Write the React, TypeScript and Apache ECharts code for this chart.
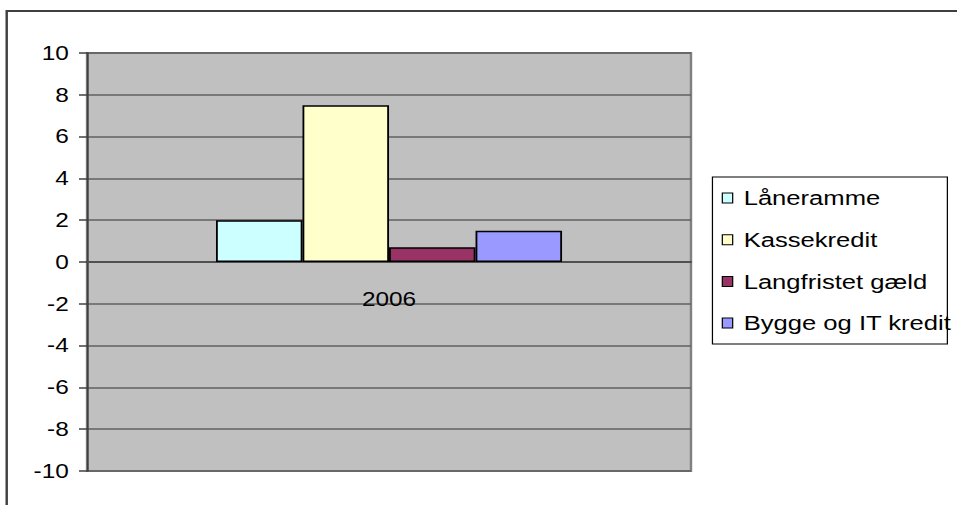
import React, { useEffect, useRef } from "react";
import * as echarts from "echarts";

const categories = ["2006"];
const seriesNames = ["Låneramme", "Kassekredit", "Langfristet gæld", "Bygge og IT kredit"];
const laaneramme = [2];
const kassekredit = [7.5];
const langfristet = [0.7];
const bygge = [1.5];
const seriesColors = ["#CCFFFF", "#FFFFCC", "#993366", "#9999FF"];
const yMin = -10;
const yMax = 10;
const yStep = 2;

const W = 785;
const H = 505;
const S = 957 / W;
const FONT = "'Liberation Sans', Arial, sans-serif";
const GRID_TOP = 53;
const GRID_BOTTOM = H - 471;

export default function App() {
  const ref = useRef<HTMLDivElement>(null);
  useEffect(() => {
    document.body.style.margin = "0";
    document.body.style.overflow = "hidden";
    const chart = echarts.init(ref.current!, null, { renderer: "svg" });
    const values = [laaneramme, kassekredit, langfristet, bygge];
    const gridH = H - GRID_TOP - GRID_BOTTOM;
    const zeroOffset = -(gridH * (0 - yMin)) / (yMax - yMin);
    chart.setOption({
      animation: false,
      backgroundColor: "#ffffff",
      textStyle: { fontFamily: FONT },
      grid: {
        left: 71.4,
        right: W - 566.8,
        top: GRID_TOP,
        bottom: GRID_BOTTOM,
        show: true,
        backgroundColor: "#C0C0C0",
        borderColor: "#808080",
        borderWidth: 2,
        containLabel: false,
        outerBoundsMode: "none",
      },
      xAxis: {
        type: "category",
        data: categories,
        offset: zeroOffset,
        axisLine: { onZero: false, lineStyle: { color: "#505050", width: 2 } },
        axisTick: { show: false },
        axisLabel: { color: "#000", fontSize: 20, margin: 27, fontFamily: FONT },
        splitLine: { show: false },
      },
      yAxis: {
        type: "value",
        min: yMin,
        max: yMax,
        interval: yStep,
        axisLine: { show: true, lineStyle: { color: "#404040", width: 1.5 } },
        axisTick: { show: true, length: 6.6, lineStyle: { color: "#404040", width: 1.5 } },
        axisLabel: { color: "#000", fontSize: 20, margin: 15, fontFamily: FONT },
        splitLine: { show: true, lineStyle: { color: "#606060", width: 1.5 } },
      },
      legend: {
        orient: "vertical",
        left: 592,
        top: 186,
        padding: 0,
        itemWidth: 8.5,
        itemHeight: 10,
        itemGap: 17.7,
        icon: "rect",
        itemStyle: { borderColor: "#000", borderWidth: 1 },
        textStyle: { fontSize: 21, lineHeight: 24, color: "#000", fontFamily: FONT, padding: [0, 0, 0, 4] },
        data: seriesNames,
      },
      graphic: [
        {
          type: "polyline",
          shape: { points: [[5.5, H + 10], [5.5, 11], [W + 10, 11]] },
          style: { stroke: "#404040", lineWidth: 2, fill: "none" },
          z: 10,
        },
        {
          type: "rect",
          shape: { x: 584.4, y: 177, width: 192.7, height: 167 },
          style: { fill: "#ffffff", stroke: "#000000", lineWidth: 1 },
          z: -1,
        },
      ],
      series: seriesNames.map((name, i) => ({
        name,
        type: "bar",
        data: values[i],
        barGap: "0%",
        barCategoryGap: "42.7%",
        itemStyle: { color: seriesColors[i], borderColor: "#000", borderWidth: 1.5 },
      })),
    });
    return () => chart.dispose();
  }, []);
  return (
    <div
      ref={ref}
      style={{
        width: W + "px",
        height: H + "px",
        transform: `scaleX(${S})`,
        transformOrigin: "0 0",
      }}
    />
  );
}
